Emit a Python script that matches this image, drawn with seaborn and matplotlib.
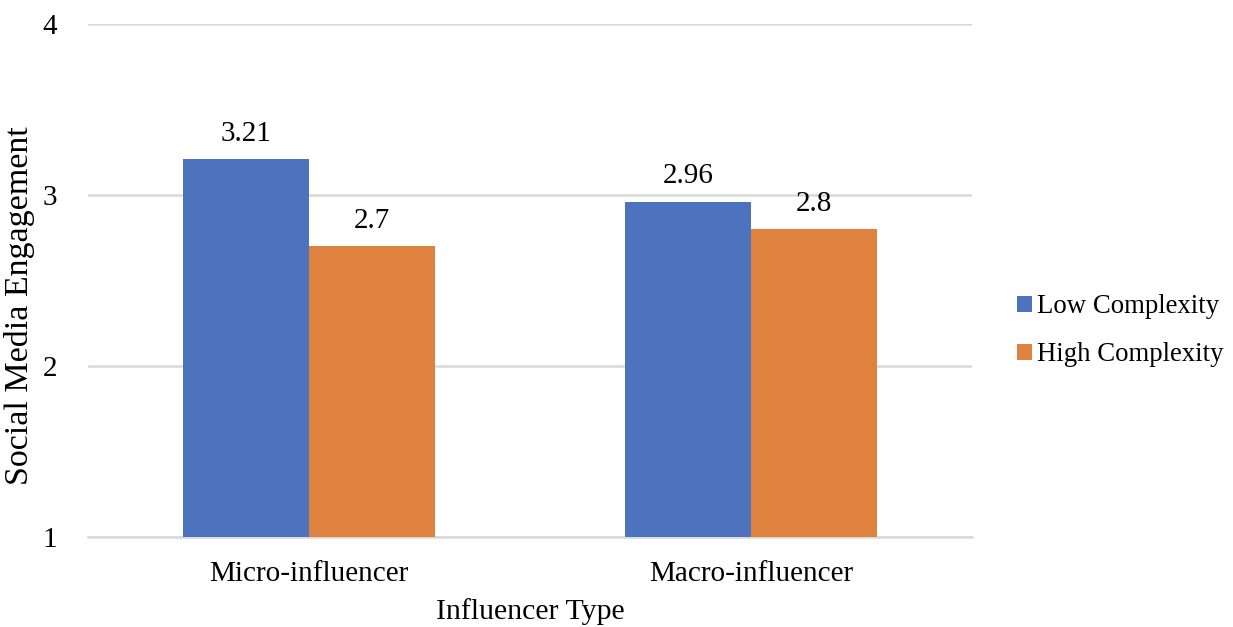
import matplotlib
matplotlib.use("Agg")
import matplotlib.pyplot as plt
import seaborn as sns
import pandas as pd

# Mean engagement by influencer type and content complexity
influencer_types = ["Micro-influencer", "Macro-influencer"]
complexity_levels = ["Low Complexity", "High Complexity"]
low_complexity = [3.21, 2.96]
high_complexity = [2.7, 2.8]
y_ticks = [1, 2, 3, 4]

df = pd.DataFrame({
    "Influencer Type": influencer_types * 2,
    "Complexity": [complexity_levels[0]] * 2 + [complexity_levels[1]] * 2,
    "Engagement": low_complexity + high_complexity,
})

sns.set_theme(style="white")
plt.rcParams["font.family"] = ["Liberation Serif", "DejaVu Serif"]
plt.rcParams["text.color"] = "black"
plt.rcParams["axes.labelcolor"] = "black"
FS = 21

fig = plt.figure(figsize=(12.33, 6.27), dpi=100)
ax = fig.add_axes([0.0714, 0.1435, 0.7168, 0.8182])

palette = {complexity_levels[0]: "#4E73BE", complexity_levels[1]: "#E0823F"}
sns.barplot(data=df, x="Influencer Type", y="Engagement", hue="Complexity",
            order=influencer_types, hue_order=complexity_levels,
            palette=palette, saturation=1, width=0.57, gap=0,
            linewidth=0, errorbar=None, ax=ax, zorder=3)

for container in ax.containers:
    ax.bar_label(container, labels=[f"{v:g}" for v in container.datavalues],
                 padding=9, fontsize=FS, color="black")

ax.set_ylim(1, 4)
ax.set_yticks(y_ticks)
ax.set_yticklabels([str(t) for t in y_ticks])
ax.yaxis.grid(True, color="#D9D9D9", linewidth=1.8, zorder=0)
ax.set_axisbelow(True)
for side in ["left", "right", "top"]:
    ax.spines[side].set_visible(False)
ax.spines["bottom"].set_color("#D9D9D9")
ax.spines["bottom"].set_linewidth(1.8)
ax.tick_params(axis="both", length=0, labelsize=FS, colors="black")
ax.tick_params(axis="y", pad=22)
ax.tick_params(axis="x", pad=17)

ax.set_xlabel("Influencer Type", fontsize=21.5, labelpad=8)
ax.set_ylabel("Social Media Engagement", fontsize=24.5, va="center")
ax.yaxis.set_label_coords(-0.078, 0.452)

ax.legend(loc="center left", bbox_to_anchor=(1.024, 0.402), frameon=False,
          fontsize=19.3, handlelength=0.55, handleheight=0.55, handletextpad=0.2,
          labelspacing=0.87, title=None)

fig.savefig("out.png", dpi=100)
